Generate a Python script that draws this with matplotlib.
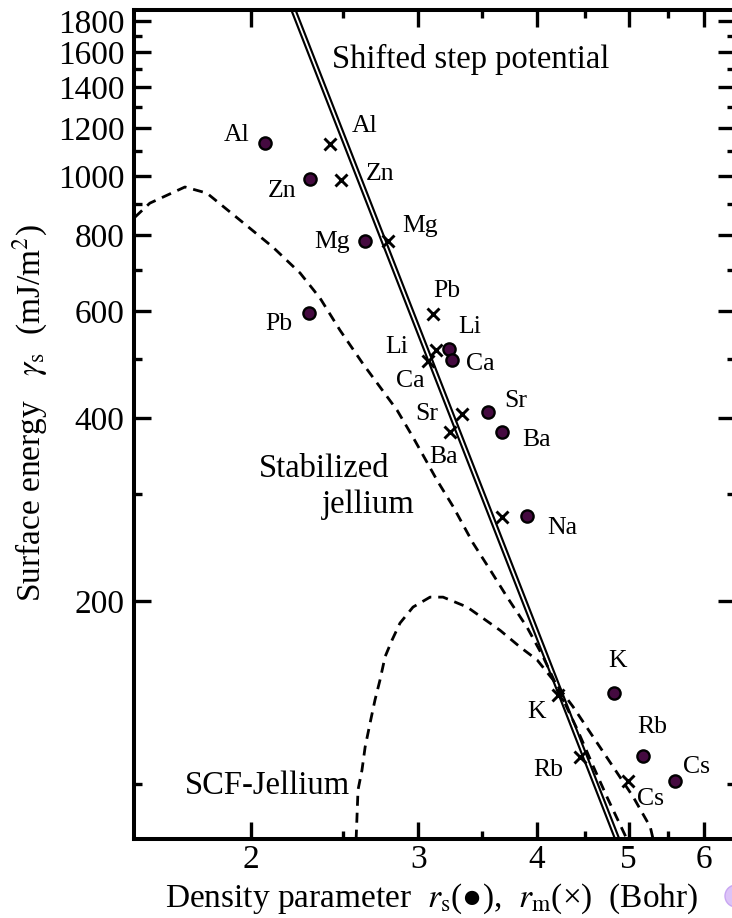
import matplotlib
matplotlib.use('Agg')
from matplotlib import pyplot as plt
from matplotlib.patches import Ellipse
from matplotlib.ticker import FixedLocator, NullFormatter, FixedFormatter

plt.rcParams['font.family'] = ['Liberation Serif', 'DejaVu Sans']
plt.rcParams['mathtext.fontset'] = 'stix'

# metals: density parameter r_s (circles) and r_m (crosses), surface energy in mJ/m^2
metals = ['Al', 'Zn', 'Mg', 'Pb', 'Li', 'Ca', 'Sr', 'Ba', 'Na', 'K', 'Rb', 'Cs']
rs_vals = [2.07, 2.31, 2.64, 2.30, 3.23, 3.26, 3.55, 3.68, 3.91, 4.83, 5.18, 5.60]
rs_gamma = [1134, 989, 782, 595, 520, 498, 409, 379, 276, 141, 111, 101]
rm_vals = [2.42, 2.49, 2.79, 3.11, 3.13, 3.07, 3.34, 3.24, 3.68, 4.21, 4.44, 4.99]
rm_gamma = [1128, 986, 782, 593, 518, 496, 407, 379, 275, 140, 110.6, 101]

# shifted step potential (straight line in log-log)
step_r = [2.20, 4.90]
step_gamma = [1936, 78.7]

# stabilized jellium curve
stab_r = [1.509, 1.565, 1.704, 1.797, 1.947, 2.110, 2.253, 2.365, 2.482, 2.625,
          2.735, 2.851, 2.963, 3.141, 3.266, 3.428, 3.573, 3.723, 3.908, 4.062,
          4.234, 4.413, 4.587, 4.746, 4.981]
stab_gamma = [856, 903, 960, 938, 847, 764, 693, 630, 558, 491,
              450, 412, 372, 316, 286, 249, 225, 203, 181, 162,
              141, 123, 107, 95, 81]

# self-consistent jellium curve
scf_r = [2.581, 2.593, 2.618, 2.638, 2.670, 2.702, 2.735, 2.769, 2.816, 2.871,
         2.963, 3.088, 3.187, 3.379, 3.660, 3.842, 4.004, 4.163, 4.370, 4.587,
         4.815, 5.055, 5.268, 5.306]
scf_gamma = [81, 97.8, 105.4, 115, 126, 137.5, 148.3, 162, 172.5, 184,
             195.5, 203, 203, 195.5, 179, 168, 160, 148.3, 133.9, 119.5,
             106.7, 95.2, 85, 81]

x_major = [2, 3, 4, 5, 6]
x_minor = [2.5, 3.5, 4.5, 5.5]
y_major = [200, 400, 600, 800, 1000, 1200, 1400, 1600, 1800]
y_minor = [100, 300, 500, 700, 900, 1100, 1300, 1500, 1700]

# label offsets (pixels) from each marker
rs_off = [(-29, 2), (-28, -18), (-33, -7), (-30, -17), (21, 16), (28, -10),
          (28, 5), (34, -14), (35, -18), (3, 26), (9, 23), (21, 8)]
rm_off = [(35, 12), (39, 0), (32, 9), (14, 17), (-39, -3), (-17, -26),
          (-36, -6), (-6, -31), None, (-21, -23), (-31, -19), (23, -24)]

W, H = 732, 918
fig = plt.figure(figsize=(W / 100, H / 100), dpi=100)
ax = fig.add_axes([134 / W, (H - 839) / H, 601 / W, 829 / H])
ax.set_xscale('log')
ax.set_yscale('log')
ax.set_xlim(1.506, 6.47)
ax.set_ylim(81.2, 1877)

ax.plot(step_r, step_gamma, color='black', lw=4.4, solid_capstyle='butt', zorder=2)
ax.plot(step_r, step_gamma, color='white', lw=1.3, solid_capstyle='butt', zorder=2)
ax.plot(stab_r, stab_gamma, color='black', lw=2.0, ls=(0, (3.6, 2.5)), zorder=3)
ax.plot(scf_r, scf_gamma, color='black', lw=2.0, ls=(0, (3.6, 2.5)), zorder=3)

ax.plot(rs_vals, rs_gamma, 'o', ms=8.8, mfc='#450a40', mec='black', mew=1.7,
        zorder=5, clip_on=False)
ax.plot(rm_vals, rm_gamma, 'x', ms=8.5, color='black', mew=2.1, zorder=5)

k = 0.72
for name, x, y, off in zip(metals, rs_vals, rs_gamma, rs_off):
    ax.annotate(name, (x, y), xytext=(off[0] * k, off[1] * k), textcoords='offset points',
                ha='center', va='baseline', fontsize=18.5)
for name, x, y, off in zip(metals, rm_vals, rm_gamma, rm_off):
    if off is None:
        continue
    ax.annotate(name, (x, y), xytext=(off[0] * k, off[1] * k), textcoords='offset points',
                ha='center', va='baseline', fontsize=18.5)

ax.text(3.41, 1506, 'Shifted step potential', ha='center', va='baseline', fontsize=23.5)
ax.text(2.388, 320, 'Stabilized', ha='center', va='baseline', fontsize=23.5)
ax.text(2.657, 279, 'jellium', ha='center', va='baseline', fontsize=23.5)
ax.text(2.084, 96.3, 'SCF-Jellium', ha='center', va='baseline', fontsize=23.5)

ax.xaxis.set_major_locator(FixedLocator(x_major))
ax.xaxis.set_major_formatter(FixedFormatter([str(v) for v in x_major]))
ax.xaxis.set_minor_locator(FixedLocator(x_minor))
ax.xaxis.set_minor_formatter(NullFormatter())
ax.yaxis.set_major_locator(FixedLocator(y_major))
ax.yaxis.set_major_formatter(FixedFormatter([str(v) for v in y_major]))
ax.yaxis.set_minor_locator(FixedLocator(y_minor))
ax.yaxis.set_minor_formatter(NullFormatter())

ax.tick_params(which='both', direction='in', top=True, right=True, width=2.4)
ax.tick_params(which='major', length=12, labelsize=24)
ax.tick_params(which='minor', length=6)
ax.tick_params(axis='x', pad=4)
ax.tick_params(axis='y', pad=7)
for s in ax.spines.values():
    s.set_linewidth(2.9)

fig.text(432 / W, (H - 907) / H,
         r'Density parameter  $r_{\rm s}$(●),  $r_{\rm m}$(×)  (Bohr)',
         ha='center', va='baseline', fontsize=24)
fig.text(30 / W, (H - 413) / H,
         r'Surface energy   $\gamma_{\rm s}$  (mJ/m$^2$)',
         ha='center', va='center', rotation=90, fontsize=24)

# small lavender dot at the lower right edge of the image
fig.patches.append(Ellipse((736 / W, (H - 896) / H), 22 / W, 22 / H,
                           transform=fig.transFigure, facecolor='#dcc3f7',
                           edgecolor='#c8a6f2', lw=1))

fig.savefig('out.png', dpi=100)
